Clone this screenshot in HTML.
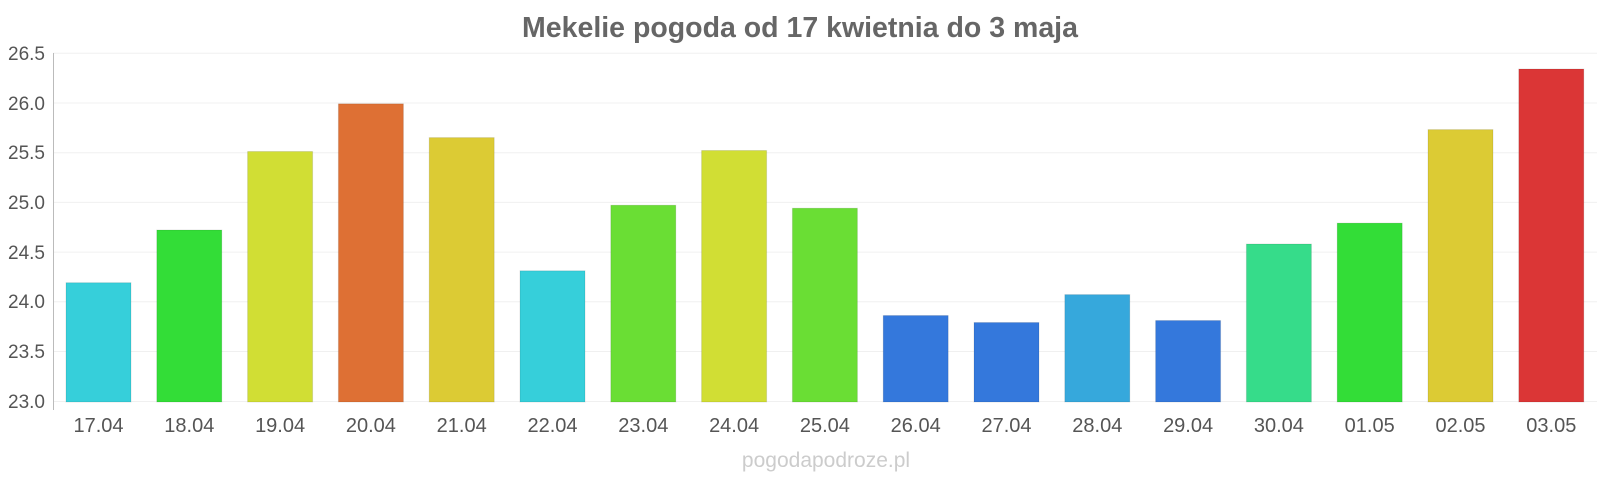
<!DOCTYPE html>
<html><head><meta charset="utf-8"><style>
body{margin:0;background:#fff;font-family:"Liberation Sans",sans-serif;}
</style></head><body>
<svg width="1600" height="480" xmlns="http://www.w3.org/2000/svg" font-family="Liberation Sans, sans-serif">
<text x="800" y="37" text-anchor="middle" font-size="28.5" font-weight="bold" fill="#666">Mekelie pogoda od 17 kwietnia do 3 maja</text>
<g stroke="#f0f0f0" stroke-width="1">
<line x1="53" x2="1597" y1="53.3" y2="53.3"/><line x1="53" x2="1597" y1="103" y2="103"/>
<line x1="53" x2="1597" y1="152.7" y2="152.7"/><line x1="53" x2="1597" y1="202.4" y2="202.4"/>
<line x1="53" x2="1597" y1="252.1" y2="252.1"/><line x1="53" x2="1597" y1="301.8" y2="301.8"/>
<line x1="53" x2="1597" y1="351.5" y2="351.5"/><line x1="53" x2="1597" y1="401.5" y2="401.5"/>
</g>
<line x1="53.5" x2="53.5" y1="53" y2="410" stroke="#bbb"/>
<g font-size="19" fill="#555" text-anchor="end">
<text x="45" y="60">26.5</text><text x="45" y="110">26.0</text><text x="45" y="159">25.5</text>
<text x="45" y="209">25.0</text><text x="45" y="259">24.5</text><text x="45" y="308">24.0</text>
<text x="45" y="358">23.5</text><text x="45" y="408">23.0</text>
</g>
<g stroke="rgba(0,0,0,0.1)">
<rect x="66" y="282.7" width="65" height="119.3" fill="#36cfda"/>
<rect x="156.8" y="230" width="65" height="172" fill="#33dd37"/>
<rect x="247.6" y="151.5" width="65" height="250.5" fill="#d1de34"/>
<rect x="338.4" y="103.8" width="65" height="298.2" fill="#de7034"/>
<rect x="429.2" y="137.6" width="65" height="264.4" fill="#dccb34"/>
<rect x="520" y="270.8" width="65" height="131.2" fill="#36cfda"/>
<rect x="610.8" y="205.2" width="65" height="196.8" fill="#6ade34"/>
<rect x="701.6" y="150.5" width="65" height="251.5" fill="#d1de34"/>
<rect x="792.4" y="208.2" width="65" height="193.8" fill="#6ade34"/>
<rect x="883.2" y="315.5" width="65" height="86.5" fill="#3478dc"/>
<rect x="974" y="322.5" width="65" height="79.5" fill="#3478dc"/>
<rect x="1064.8" y="294.6" width="65" height="107.4" fill="#36a8dc"/>
<rect x="1155.6" y="320.5" width="65" height="81.5" fill="#3478dc"/>
<rect x="1246.4" y="244" width="65" height="158" fill="#36dc8a"/>
<rect x="1337.2" y="223.1" width="65" height="178.9" fill="#33dd37"/>
<rect x="1428" y="129.6" width="65" height="272.4" fill="#dccb34"/>
<rect x="1518.8" y="69" width="65" height="333" fill="#db3636"/>
</g>
<g font-size="20" fill="#555" text-anchor="middle">
<text x="98.5" y="432">17.04</text><text x="189.3" y="432">18.04</text><text x="280.1" y="432">19.04</text>
<text x="370.9" y="432">20.04</text><text x="461.7" y="432">21.04</text><text x="552.5" y="432">22.04</text>
<text x="643.3" y="432">23.04</text><text x="734.1" y="432">24.04</text><text x="824.9" y="432">25.04</text>
<text x="915.7" y="432">26.04</text><text x="1006.5" y="432">27.04</text><text x="1097.3" y="432">28.04</text>
<text x="1188.1" y="432">29.04</text><text x="1278.9" y="432">30.04</text><text x="1369.7" y="432">01.05</text>
<text x="1460.5" y="432">02.05</text><text x="1551.3" y="432">03.05</text>
</g>
<text x="826" y="467" text-anchor="middle" font-size="21" fill="#ccc">pogodapodroze.pl</text>
</svg>
</body></html>
